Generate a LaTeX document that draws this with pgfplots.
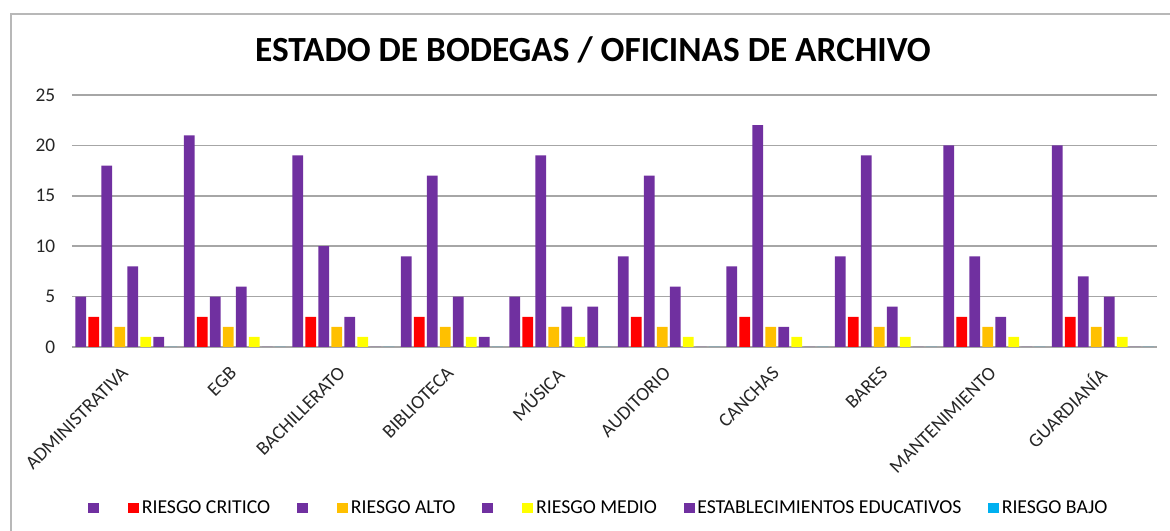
\documentclass[border=0pt]{standalone}
\usepackage{fontspec}
\setmainfont{Carlito}
\usepackage{pgfplots}
\usepackage{pgfplotstable}
\pgfplotsset{compat=1.18}
\definecolor{cpur}{HTML}{7030A0}
\definecolor{cred}{HTML}{FF0000}
\definecolor{cora}{HTML}{FFC000}
\definecolor{cyel}{HTML}{FFFF00}
\definecolor{ccya}{HTML}{00B0F0}
\definecolor{cgrid}{HTML}{A6A6A6}
% columns: P1 R P2 O P3 Y P4 C
\pgfplotstableread{
x pa rc pb ra pc rm pd rb
0 5  3 18 2 8 1 1 0
1 21 3 5  2 6 1 0 0
2 19 3 10 2 3 1 0 0
3 9  3 17 2 5 1 1 0
4 5  3 19 2 4 1 4 0
5 9  3 17 2 6 1 0 0
6 8  3 22 2 2 1 0 0
7 9  3 19 2 4 1 0 0
8 20 3 9  2 3 1 0 0
9 20 3 7  2 5 1 0 0
}\datatable
\begin{document}
\begin{tikzpicture}
\useasboundingbox (-54pt,-138pt) rectangle (823.5pt,260.25pt);
\draw[cgrid!80, line width=1.3pt] (-45.75pt,-138pt) -- (-45.75pt,249.75pt) -- (823.5pt,249.75pt);
\begin{axis}[
  at={(0pt,0pt)}, anchor=south west,
  scale only axis, width=813.75pt, height=189pt,
  ymin=0, ymax=25, ytick={0,5,10,15,20,25},
  xmin=-0.5, xmax=9.5,
  xtick={0,...,9},
  xticklabels={ADMINISTRATIVA,EGB,BACHILLERATO,BIBLIOTECA,MÚSICA,AUDITORIO,CANCHAS,BARES,MANTENIMIENTO,GUARDIANÍA},
  major tick length=0pt,
  axis x line*=bottom, axis y line*=left,
  x axis line style={cgrid, line width=1.2pt, -},
  y axis line style={draw=none},
  ymajorgrids, grid style={cgrid, line width=1.2pt},
  /pgf/number format/assume math mode=true,
  tick label style={font=\fontsize{14.5}{17}\selectfont, color=black!85},
  yticklabel style={anchor=east, xshift=-9pt},
  xticklabel style={xshift=-4.5pt, yshift=-9pt, rotate=45, anchor=north east},
  ybar, bar width=0.1,
  legend columns=-1,
  legend style={at={(395.25pt,-120.75pt)}, anchor=center, draw=none,
    font=\fontsize{14.8}{17}\selectfont, column sep=0pt,
    /tikz/every even column/.append style={column sep=18pt},
    nodes={inner sep=2pt}},
  legend image code/.code={\fill[#1] (0pt,-4.1pt) rectangle (8.25pt,4.1pt);},
  clip=false,
]
\addplot[fill=cpur, draw=none, bar shift=-0.42] table[x=x,y=pa]{\datatable};
\addplot[fill=cred, draw=none, bar shift=-0.30] table[x=x,y=rc]{\datatable};
\addplot[fill=cpur, draw=none, bar shift=-0.18] table[x=x,y=pb]{\datatable};
\addplot[fill=cora, draw=none, bar shift=-0.06] table[x=x,y=ra]{\datatable};
\addplot[fill=cpur, draw=none, bar shift=0.06] table[x=x,y=pc]{\datatable};
\addplot[fill=cyel, draw=none, bar shift=0.18] table[x=x,y=rm]{\datatable};
\addplot[fill=cpur, draw=none, bar shift=0.30] table[x=x,y=pd]{\datatable};
\addplot[fill=ccya, draw=none, bar shift=0.42] table[x=x,y=rb]{\datatable};
\legend{{\ },RIESGO CRITICO,{\ },RIESGO ALTO,{\ },RIESGO MEDIO,ESTABLECIMIENTOS EDUCATIVOS,RIESGO BAJO}
\end{axis}
\node[font=\fontsize{26.5}{30}\selectfont\bfseries] at (390.75pt,222.75pt) {ESTADO DE BODEGAS / OFICINAS DE ARCHIVO};
\end{tikzpicture}
\end{document}
